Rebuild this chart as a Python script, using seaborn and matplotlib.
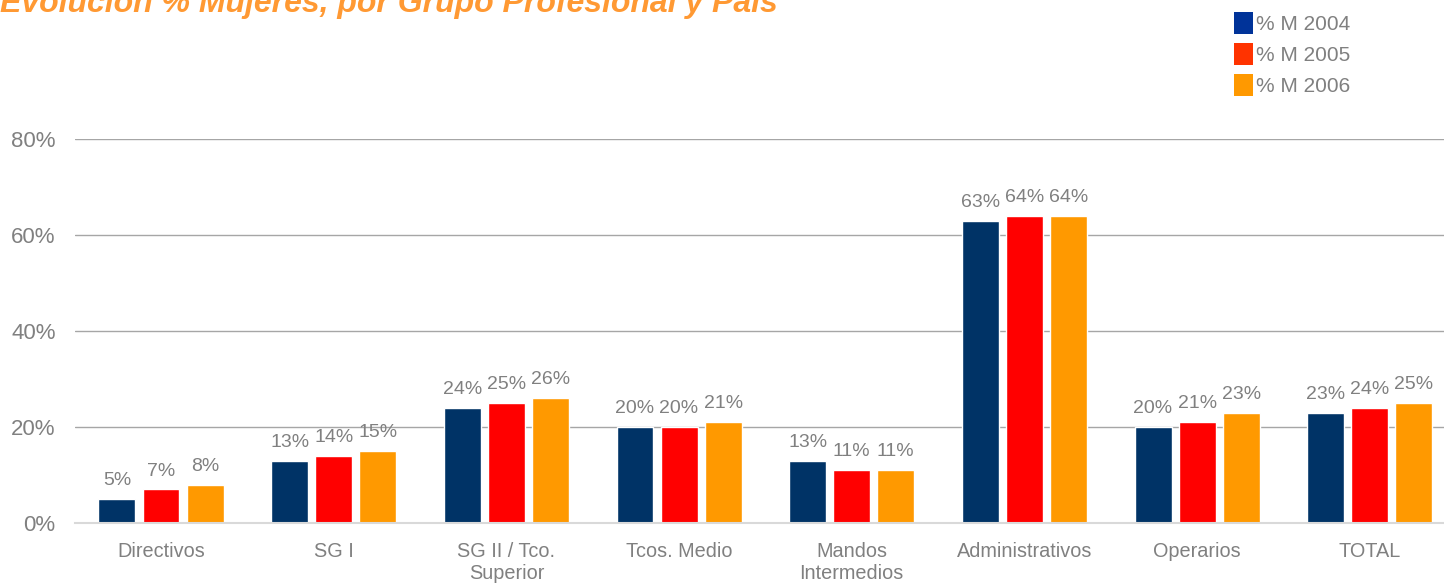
import matplotlib
matplotlib.use("Agg")
import matplotlib.pyplot as plt
from matplotlib.patches import Patch
import seaborn as sns
import pandas as pd

# datos
categorias = ["Directivos", "SG I", "SG II / Tco.\nSuperior", "Tcos. Medio",
              "Mandos\nIntermedios", "Administrativos", "Operarios", "TOTAL"]
series = ["% M 2004", "% M 2005", "% M 2006"]
m2004 = [5, 13, 24, 20, 13, 63, 20, 23]
m2005 = [7, 14, 25, 20, 11, 64, 21, 24]
m2006 = [8, 15, 26, 21, 11, 64, 23, 25]
yticks = [0, 20, 40, 60, 80]
titulo = "Evolución % Mujeres, por Grupo Profesional y País"

df = pd.DataFrame({
    "cat": categorias * 3,
    "serie": [series[0]] * 8 + [series[1]] * 8 + [series[2]] * 8,
    "valor": m2004 + m2005 + m2006,
})

colores_barras = ["#003366", "#FF0000", "#FF9900"]
colores_leyenda = ["#003399", "#FF3300", "#FF9900"]
gris = "#808080"

sns.set_style("white")
plt.rcParams["font.family"] = ["Liberation Sans", "DejaVu Sans"]

fig = plt.figure(figsize=(14.44, 5.86), dpi=100)
ax = fig.add_axes([75 / 1444, 63 / 586, 1 - 75 / 1444, (523 - 139) / 586 * 1.0])

sns.barplot(data=df, x="cat", y="valor", hue="serie", palette=colores_barras,
            width=0.765, gap=0.16, ax=ax, legend=False, saturation=1)

# etiquetas de valor sobre las barras
for cont in ax.containers:
    ax.bar_label(cont, labels=[f"{v:.0f}%" for v in cont.datavalues],
                 padding=7, color=gris, fontsize=14)

ax.set_ylim(0, 80)
ax.set_xlim(-0.498, 7.43)
ax.set_yticks(yticks)
ax.set_yticklabels([f"{t}%" for t in yticks])
ax.yaxis.grid(True, color="#A6A6A6", linewidth=1)
ax.set_axisbelow(True)
ax.set_xlabel("")
ax.set_ylabel("")
ax.tick_params(axis="both", length=0, colors=gris)
ax.tick_params(axis="y", pad=14, labelsize=16)
ax.tick_params(axis="x", pad=14, labelsize=14.3)
for s in ["left", "right", "top"]:
    ax.spines[s].set_visible(False)
ax.spines["bottom"].set_color("#D9D9D9")
ax.spines["bottom"].set_linewidth(1.5)

handles = [Patch(facecolor=c, edgecolor="none") for c in colores_leyenda]
fig.legend(handles, series, loc="upper left", bbox_to_anchor=(1226 / 1444, 1 - 4 / 586),
           frameon=False, fontsize=15, labelcolor=gris, handlelength=0.9,
           handleheight=1.2, handletextpad=0.15, labelspacing=0.45, borderaxespad=0)

fig.text(0.0, 1 - 12 / 586, titulo, color="#FF9933", fontsize=23,
         fontweight="bold", fontstyle="italic", va="baseline", ha="left")

fig.savefig("out.png", dpi=100)
